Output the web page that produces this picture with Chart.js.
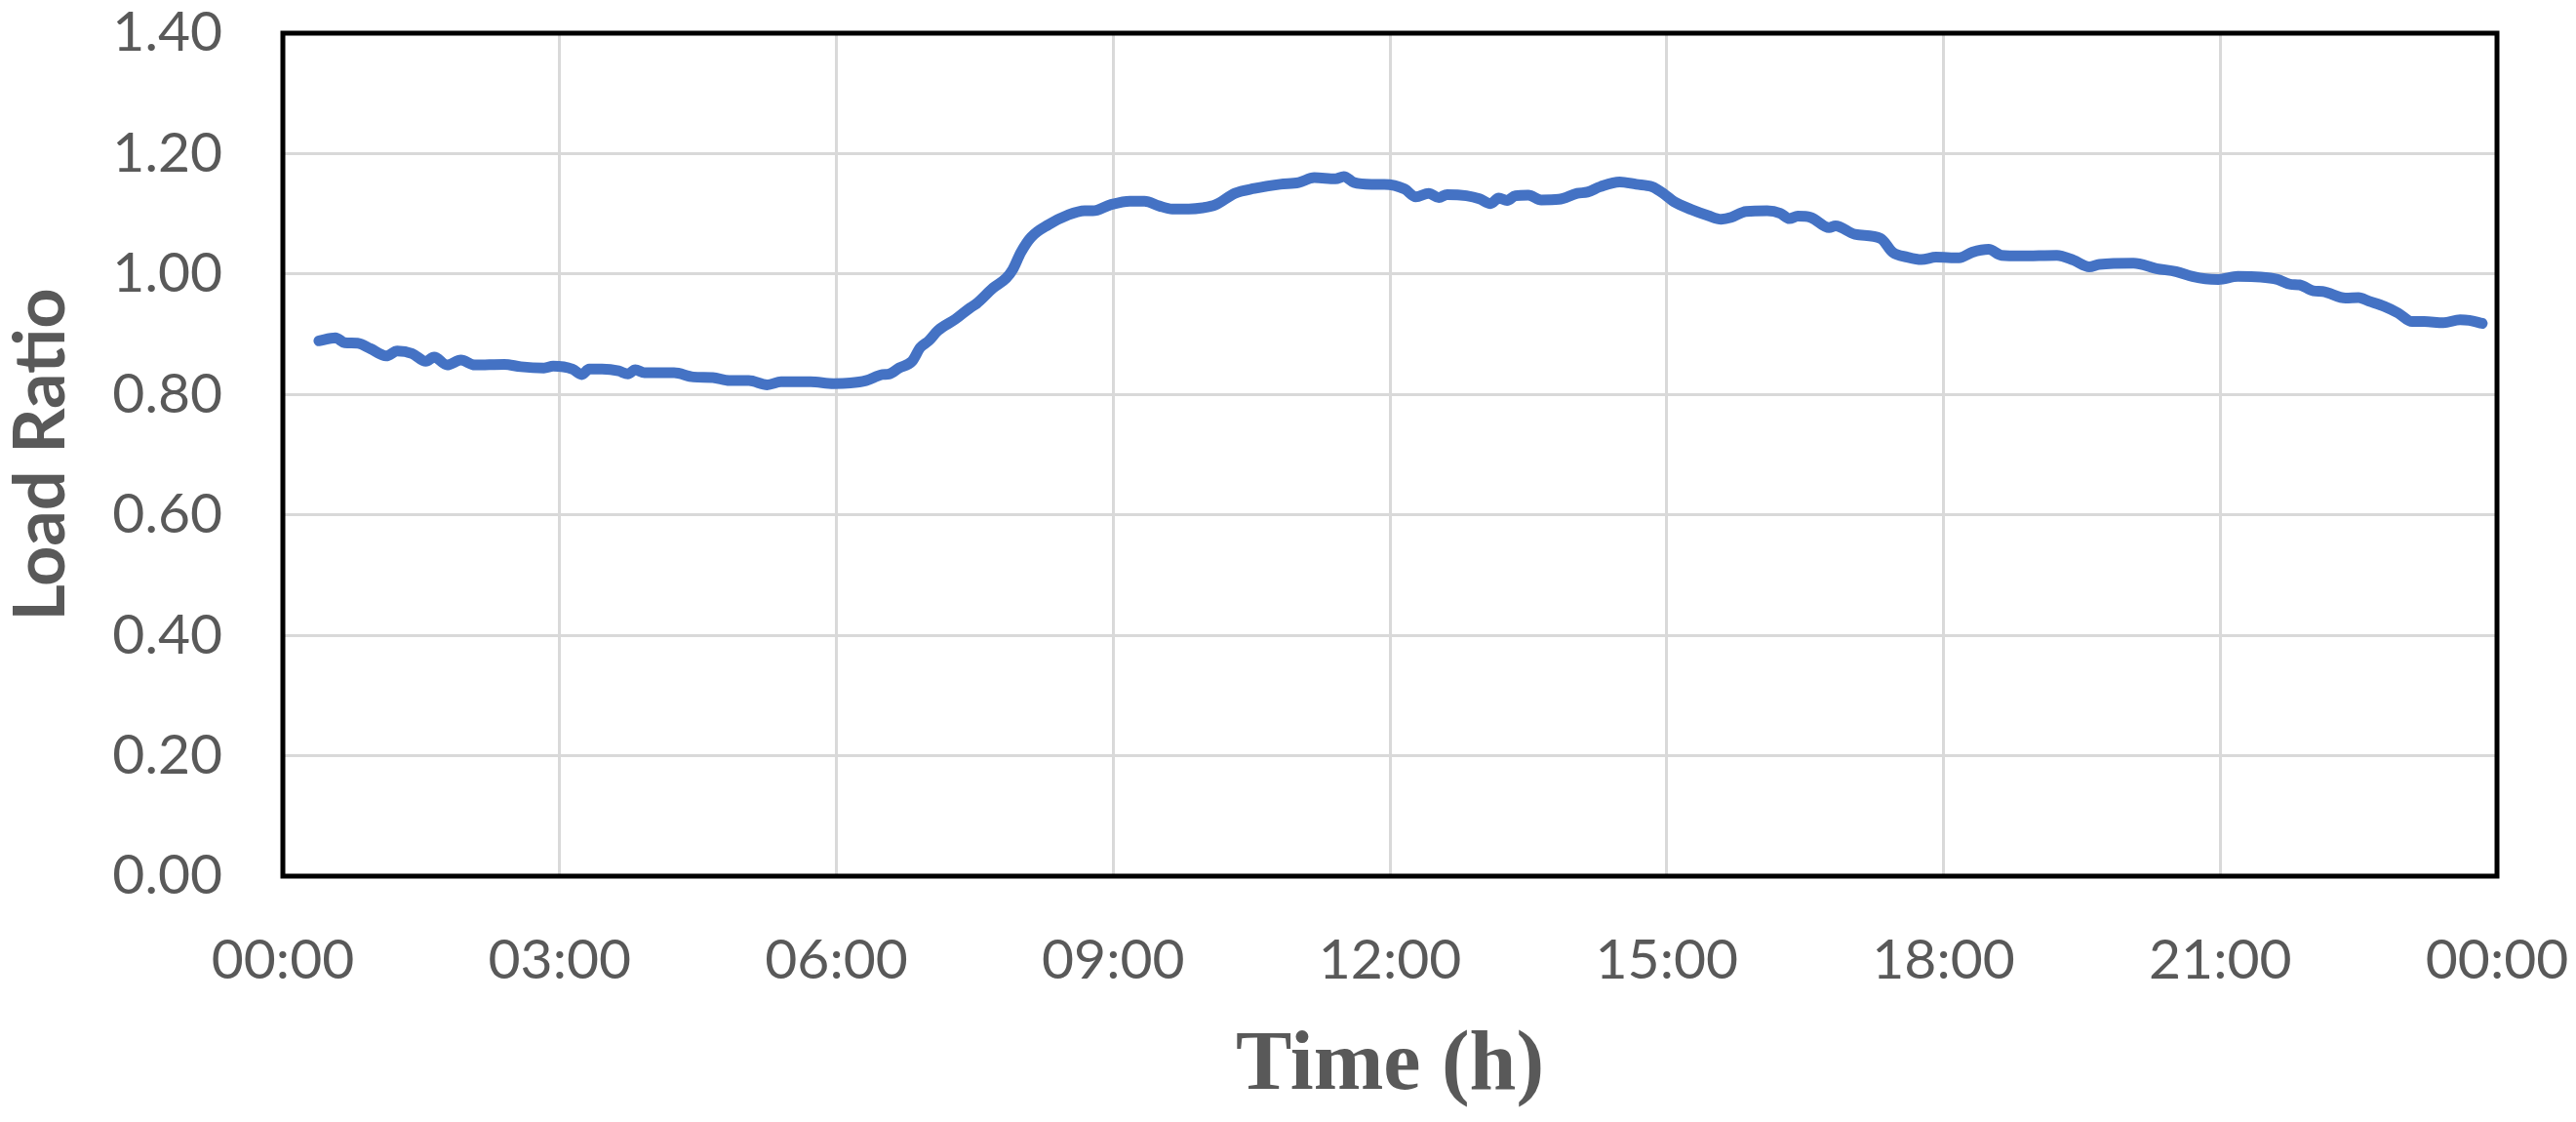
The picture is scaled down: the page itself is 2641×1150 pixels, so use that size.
<!DOCTYPE html>
<html>
<head>
<meta charset="utf-8">
<title>Load Ratio</title>
<script src="https://cdn.jsdelivr.net/npm/chart.js@4.4.1/dist/chart.umd.min.js"></script>
<style>
    body { margin: 0; background: #ffffff; }
    #wrap { width: 2641px; height: 1150px; }
</style>
</head>
<body>
<div id="wrap">
    <canvas id="loadChart" width="2641" height="1150"></canvas>
</div>
<script>
// time of day in hours
var hours = [
    0.39, 0.57, 0.67, 0.81, 0.95, 1.12, 1.24, 1.40, 1.55, 1.64, 1.78, 1.93, 2.08, 2.40, 2.58, 2.83, 2.93,
    3.14, 3.24, 3.32, 3.46, 3.64, 3.74, 3.82, 3.92, 4.24, 4.45, 4.66, 4.84, 5.05, 5.25, 5.40, 5.72, 5.97,
    6.15, 6.32, 6.50, 6.57, 6.68, 6.82, 6.91, 7.00, 7.10, 7.29, 7.45, 7.52, 7.70, 7.84, 7.91, 8.00, 8.11,
    8.30, 8.51, 8.69, 8.78, 8.97, 9.18, 9.34, 9.50, 9.64, 9.82, 9.97, 10.11, 10.32, 10.53, 10.81, 11.01,
    11.18, 11.41, 11.50, 11.61, 11.80, 11.94, 12.16, 12.28, 12.42, 12.53, 12.62, 12.83, 12.97, 13.09,
    13.18, 13.27, 13.36, 13.50, 13.64, 13.83, 14.03, 14.14, 14.28, 14.49, 14.67, 14.84, 14.98, 15.08,
    15.27, 15.45, 15.59, 15.70, 15.86, 16.09, 16.23, 16.33, 16.42, 16.56, 16.76, 16.83, 17.04, 17.32,
    17.45, 17.61, 17.76, 17.92, 18.17, 18.31, 18.49, 18.63, 18.84, 19.23, 19.41, 19.58, 19.69, 20.06,
    20.31, 20.52, 20.70, 20.84, 20.98, 21.19, 21.44, 21.62, 21.76, 21.86, 22.01, 22.11, 22.36, 22.50,
    22.61, 22.78, 22.93, 23.08, 23.21, 23.42, 23.60, 23.70, 23.84
];

var loadRatio = [
    0.889, 0.894, 0.886, 0.885, 0.876, 0.864, 0.872, 0.868, 0.855, 0.862, 0.849, 0.857, 0.849, 0.850, 0.846, 0.844, 0.847,
    0.842, 0.833, 0.842, 0.842, 0.839, 0.834, 0.841, 0.836, 0.836, 0.829, 0.828, 0.823, 0.823, 0.816, 0.821, 0.821, 0.818,
    0.819, 0.823, 0.833, 0.834, 0.844, 0.855, 0.878, 0.889, 0.906, 0.925, 0.944, 0.951, 0.977, 0.993, 1.007, 1.036, 1.061,
    1.082, 1.098, 1.105, 1.105, 1.115, 1.121, 1.121, 1.113, 1.108, 1.108, 1.110, 1.115, 1.134, 1.142, 1.149, 1.152,
    1.160, 1.158, 1.162, 1.152, 1.149, 1.149, 1.141, 1.128, 1.134, 1.127, 1.132, 1.130, 1.125, 1.117,
    1.126, 1.122, 1.130, 1.131, 1.123, 1.124, 1.134, 1.136, 1.145, 1.153, 1.149, 1.145, 1.132, 1.120,
    1.107, 1.097, 1.091, 1.094, 1.104, 1.105, 1.101, 1.092, 1.096, 1.094, 1.077, 1.080, 1.066, 1.059,
    1.036, 1.028, 1.024, 1.028, 1.027, 1.036, 1.041, 1.031, 1.030, 1.031, 1.023, 1.012, 1.016, 1.018,
    1.009, 1.004, 0.996, 0.992, 0.991, 0.996, 0.995, 0.991, 0.983, 0.982, 0.972, 0.971, 0.960, 0.961,
    0.955, 0.946, 0.935, 0.921, 0.921, 0.919, 0.924, 0.923, 0.918
];

// axis ticks
var xTickHours = [0, 3, 6, 9, 12, 15, 18, 21, 24];
var yTicks = [0, 0.2, 0.4, 0.6, 0.8, 1.0, 1.2, 1.4];

var textGrey = '#595959';

// black frame round the plot area (Excel style)
var plotFrame = {
    id: 'plotFrame',
    afterDraw: function(chart) {
        var a = chart.chartArea;
        var ctx = chart.ctx;
        ctx.save();
        ctx.strokeStyle = '#000000';
        ctx.lineWidth = 5;
        ctx.strokeRect(a.left, a.top, a.right - a.left, a.bottom - a.top);
        ctx.restore();
    }
};

var points = [];
for (var i = 0; i < hours.length; i++) {
    points.push({ x: hours[i], y: loadRatio[i] });
}

function hourLabel(h) {
    var hh = h % 24;
    return (hh < 10 ? '0' : '') + hh + ':00';
}

var ctx = document.getElementById('loadChart').getContext('2d');
var loadChart = new Chart(ctx, {
    type: 'line',
    data: {
        datasets: [{
            label: 'Load Ratio',
            data: points,
            borderColor: '#4472C4',
            backgroundColor: '#4472C4',
            borderWidth: 11,
            pointRadius: 0,
            cubicInterpolationMode: 'monotone',
            borderCapStyle: 'round',
            borderJoinStyle: 'round',
            fill: false
        }]
    },
    options: {
        responsive: false,
        animation: false,
        devicePixelRatio: 1,
        layout: {
            padding: { top: 34, right: 81, bottom: 5, left: 0 }
        },
        plugins: {
            legend: { display: false },
            tooltip: { enabled: false }
        },
        scales: {
            x: {
                type: 'linear',
                min: 0,
                max: 24,
                afterBuildTicks: function(scale) {
                    scale.ticks = xTickHours.map(function(v) { return { value: v }; });
                },
                afterFit: function(scale) {
                    // fixed size, layout padding does the rest
                    scale.height = 247;
                    scale.paddingLeft = 0;
                    scale.paddingRight = 0;
                },
                grid: { color: '#d9d9d9', lineWidth: 3, drawTicks: false },
                border: { display: false },
                ticks: {
                    color: textGrey,
                    padding: 52,
                    maxRotation: 0,
                    autoSkip: false,
                    font: { family: 'Lato', size: 57 },
                    callback: function(v) { return hourLabel(v); }
                },
                title: {
                    display: true,
                    text: 'Time (h)',
                    color: textGrey,
                    padding: 0,
                    font: { family: 'Liberation Serif', size: 86, weight: 'bold' }
                }
            },
            y: {
                min: 0,
                max: 1.4,
                afterBuildTicks: function(scale) {
                    scale.ticks = yTicks.map(function(v) { return { value: v }; });
                },
                afterFit: function(scale) {
                    scale.width = 290;
                    scale.paddingTop = 0;
                    scale.paddingBottom = 0;
                },
                grid: { color: '#d9d9d9', lineWidth: 3, drawTicks: false },
                border: { display: false },
                ticks: {
                    color: textGrey,
                    padding: 62,
                    font: { family: 'Lato', size: 57 },
                    callback: function(v) { return v.toFixed(2); }
                },
                title: {
                    display: true,
                    text: 'Load Ratio',
                    color: textGrey,
                    padding: 0,
                    font: { family: 'Lato', size: 72, weight: 'bold' }
                }
            }
        }
    },
    plugins: [plotFrame]
});
</script>
</body>
</html>
